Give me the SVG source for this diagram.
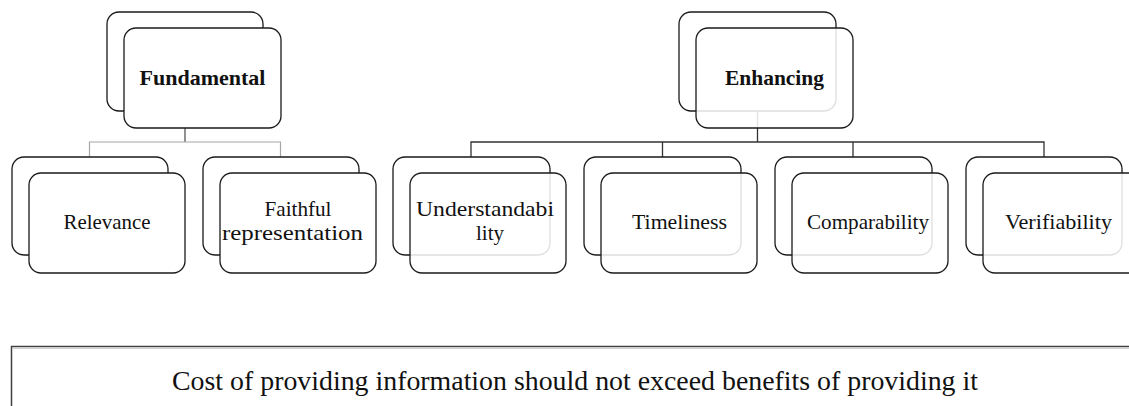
<svg xmlns="http://www.w3.org/2000/svg" width="1129" height="406" viewBox="0 0 1129 406">
<style>
  .bk { fill: #ffffff; stroke: #1a1a1a; stroke-width: 1.3; }
  .fr { fill: #ffffff; stroke: #1a1a1a; stroke-width: 1.3; }
  .frt { fill: #ffffff; fill-opacity: 0.86; stroke: #1a1a1a; stroke-width: 1.3; }
  .lbl { font-family: "Liberation Serif", "Times New Roman", serif; font-size: 21px; fill: #111111; text-anchor: middle; }
  .hd { font-family: "Liberation Serif", "Times New Roman", serif; font-size: 22px; font-weight: bold; fill: #111111; text-anchor: middle; }
  .cg { fill: none; stroke: #a6a6a6; stroke-width: 1.2; }
  .cd { fill: none; stroke: #333333; stroke-width: 1.3; }
  .cm { fill: none; stroke: #555555; stroke-width: 1.3; }
</style>
<rect width="1129" height="406" fill="#ffffff"/>
<g id="connectors">
  <path class="cm" d="M185 111 V142"/>
  <path class="cg" d="M89.5 157 V142 H280.5 V157"/>
  <path class="cd" d="M757.5 111 V142"/>
  <path class="cd" d="M471 157 V142 H1044 V157 M662.5 142 V157 M853 142 V157"/>
</g>
<g id="fundamental">
  <rect class="bk" x="107" y="12" width="156" height="99" rx="12"/>
  <rect class="fr" x="124" y="28" width="157" height="100" rx="12"/>
  <text class="hd" x="202.5" y="85" textLength="126" lengthAdjust="spacingAndGlyphs">Fundamental</text>
</g>
<g id="enhancing">
  <rect class="bk" x="679" y="12" width="157" height="99" rx="12"/>
  <rect class="frt" x="696" y="28" width="157" height="100" rx="12"/>
  <text class="hd" x="774.5" y="85" textLength="99" lengthAdjust="spacingAndGlyphs">Enhancing</text>
</g>
<g id="relevance">
  <rect class="bk" x="12" y="157" width="156" height="98" rx="12"/>
  <rect class="fr" x="29" y="173" width="156" height="100" rx="12"/>
  <text class="lbl" x="107" y="229" textLength="87" lengthAdjust="spacingAndGlyphs">Relevance</text>
</g>
<g id="faithful">
  <rect class="bk" x="203" y="157" width="156" height="98" rx="12"/>
  <rect class="fr" x="220" y="173" width="156" height="100" rx="12"/>
  <text class="lbl" x="298" y="216" textLength="67" lengthAdjust="spacingAndGlyphs">Faithful</text>
  <text class="lbl" x="292.5" y="240" textLength="141" lengthAdjust="spacingAndGlyphs">representation</text>
</g>
<g id="understandability">
  <rect class="bk" x="393" y="157" width="157" height="98" rx="12"/>
  <rect class="frt" x="410" y="173" width="156" height="100" rx="12"/>
  <text class="lbl" x="485" y="216" textLength="138" lengthAdjust="spacingAndGlyphs">Understandabi</text>
  <text class="lbl" x="490" y="240">lity</text>
</g>
<g id="timeliness">
  <rect class="bk" x="584" y="157" width="157" height="98" rx="12"/>
  <rect class="frt" x="601" y="173" width="156" height="100" rx="12"/>
  <text class="lbl" x="679.5" y="229" textLength="95" lengthAdjust="spacingAndGlyphs">Timeliness</text>
</g>
<g id="comparability">
  <rect class="bk" x="775" y="157" width="157" height="98" rx="12"/>
  <rect class="frt" x="792" y="173" width="156" height="100" rx="12"/>
  <text class="lbl" x="868" y="229" textLength="122" lengthAdjust="spacingAndGlyphs">Comparability</text>
</g>
<g id="verifiability">
  <rect class="bk" x="966" y="157" width="156" height="98" rx="12"/>
  <rect class="frt" x="983" y="173" width="160" height="100" rx="12"/>
  <text class="lbl" x="1058.5" y="229" textLength="107" lengthAdjust="spacingAndGlyphs">Verifiability</text>
</g>
<g id="constraint">
  <rect x="11.5" y="346.5" width="1140" height="80" fill="#ffffff" stroke="#404040" stroke-width="1.5"/>
  <line x1="12" y1="348.3" x2="1129" y2="348.3" stroke="#c8c8c8" stroke-width="1"/>
  <text class="lbl" x="575" y="390" style="font-size:27px" textLength="806" lengthAdjust="spacingAndGlyphs">Cost of providing information should not exceed benefits of providing it</text>
</g>
</svg>
